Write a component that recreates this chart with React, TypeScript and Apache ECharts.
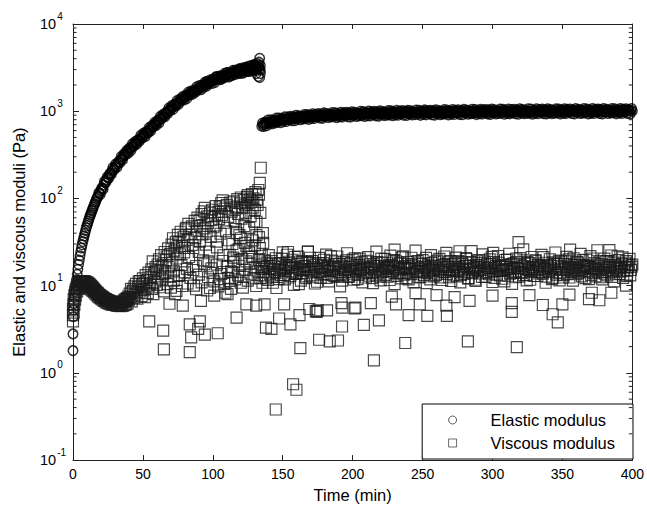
import React, { useEffect, useRef } from 'react';
import * as echarts from 'echarts';

type Pt = [number, number];

// Elastic modulus (G') — gelation growth, 0–134 min
const elasticGrowth: Pt[] = [
  [0,1.8],[0,2.8],[0.2,4.4],[0.3,5.3],[0.5,6.2],[1,7.3],[1.5,8.6],[2,10],[2.5,11.7],[3,13.5],
  [3.5,15.4],[4,17.5],[4.5,19.6],[5,22],[5.5,24.5],[6,27],[6.5,29.5],[7,32],[7.5,34.5],[8,37],
  [8.5,40],[9,43],[9.5,46],[10,49],[10.5,52],[11,55],[11.5,58.5],[12,62],[12.5,65],[13,68],
  [13.5,72],[14,75],[14.5,79],[15,83],[15.5,87],[16,91],[16.5,95],[17,100],[17.5,104],[18,107],
  [19,114],[20,123],[21,131],[22,143],[23,151],[24,164],[25,173],[26,186],[27,194],[28,207],
  [29,216],[30,229],[31,238],[32,252],[33,261],[34,278],[35,287],[36,305],[37,314],[38,332],
  [39,342],[40,361],[41,372],[42,391],[43,402],[44,422],[45,434],[46,455],[47,466],[48,489],
  [49,500],[50,524],[51,535],[52,562],[53,574],[54,603],[55,614],[56,645],[57,660],[58,697],
  [59,711],[60,750],[61,766],[62,806],[63,826],[64,870],[65,890],[66,936],[67,958],[68,1006],
  [69,1028],[70,1078],[71,1100],[72,1151],[73,1175],[74,1227],[75,1250],[76,1303],[77,1325],[78,1380],
  [79,1402],[80,1458],[81,1479],[82,1535],[83,1556],[84,1612],[85,1632],[86,1690],[87,1709],[88,1770],
  [89,1789],[90,1850],[91,1869],[92,1931],[93,1946],[94,2008],[95,2022],[96,2085],[97,2099],[98,2162],
  [99,2178],[100,2243],[101,2262],[102,2328],[103,2345],[104,2412],[105,2418],[106,2483],[107,2488],[108,2548],
  [109,2552],[110,2613],[111,2617],[112,2680],[113,2685],[114,2745],[115,2750],[116,2815],[117,2810],[118,2866],
  [119,2859],[120,2915],[121,2910],[122,2966],[123,2960],[124,3016],[125,3009],[126,3066],[127,3058],[128,3116],
  [129,3105],[130,3157],[131,3145],[132,3196],[133,3185],
];

// Elastic modulus — second reading of the growth band (half-minute samples)
const elasticGrowthB: Pt[] = [
  [18.5,117],[19.5,111],[20.5,132],[21.5,127],[22.5,157],[23.5,153],[24.5,177],[25.5,169],[26.5,194],[27.5,190],
  [28.5,226],[29.5,214],[30.5,248],[31.5,228],[32.5,264],[33.5,256],[34.5,302],[35.5,278],[36.5,325],[37.5,317],
  [38.5,357],[39.5,330],[40.5,381],[41.5,355],[42.5,424],[43.5,400],[44.5,449],[45.5,418],[46.5,470],[47.5,454],
  [48.5,529],[49.5,492],[50.5,561],[51.5,510],[52.5,585],[53.5,559],[54.5,651],[55.5,592],[56.5,685],[57.5,665],
  [58.5,746],[59.5,687],[60.5,788],[61.5,731],[62.5,873],[63.5,823],[64.5,924],[65.5,858],[66.5,966],[67.5,933],
  [68.5,1088],[69.5,1011],[70.5,1154],[71.5,1046],[72.5,1198],[73.5,1141],[74.5,1325],[75.5,1199],[76.5,1380],[77.5,1325],
  [78.5,1474],[79.5,1344],[80.5,1527],[81.5,1402],[82.5,1653],[83.5,1536],[84.5,1703],[85.5,1561],[86.5,1734],[87.5,1653],
  [88.5,1905],[89.5,1747],[90.5,1972],[91.5,1767],[92.5,1996],[93.5,1878],[94.5,2156],[95.5,1931],[96.5,2197],[97.5,2088],
  [98.5,2300],[99.5,2077],[100.5,2343],[101.5,2134],[102.5,2501],[103.5,2307],[104.5,2536],[105.5,2303],[106.5,2535],[107.5,2392],
  [108.5,2729],[109.5,2479],[110.5,2772],[111.5,2463],[112.5,2762],[113.5,2579],[114.5,2940],[115.5,2615],[116.5,2953],[117.5,2781],
  [118.5,3034],[119.5,2714],[120.5,3028],[121.5,2732],[122.5,3170],[123.5,2898],[124.5,3163],[125.5,2855],[126.5,3123],[127.5,2933],
  [128.5,3328],[129.5,3006],[130.5,3340],[131.5,2948],[132.5,3286],[133.5,3040],
];

const elasticScatter: Pt[] = [
  [96,2200],[102,2450],[106,2350],[110,2750],[113,2550],[116,2950],[118,2700],[120,3100],[122,2800],[124,3200],
  [125,2850],[126,3300],[127,2900],[128,3350],[129,2950],[130,3450],[131,2700],[132,3500],[132.5,2500],[133,3650],
  [133.5,4050],[133.5,2430],[134,3350],[134,2950],[134,2700],
];

// Elastic modulus after the break, 135–400 min
const elasticPlateau: Pt[] = [
  [135,672],[136,701],[137,716],[138,724],[139,741],[140,739],[141,756],[142,761],[143,752],[144,779],
  [145,768],[146,790],[147,776],[148,781],[149,802],[150,795],[151,812],[152,803],[153,809],[154,829],
  [155,811],[156,836],[157,828],[158,819],[159,847],[160,833],[161,842],[162,861],[163,845],[164,852],
  [165,872],[166,849],[167,866],[168,880],[169,858],[170,874],[171,889],[172,865],[173,877],[174,893],
  [175,871],[176,886],[177,901],[178,878],[179,890],[180,907],[181,884],[182,899],[183,913],[184,887],
  [185,904],[186,918],[187,893],[188,911],[189,896],[190,923],[191,905],[192,914],[193,928],[194,902],
  [195,919],[196,933],[197,908],[198,925],[199,915],[200,938],[201,911],[202,929],[203,942],[204,917],
  [205,931],[206,920],[207,946],[208,924],[209,937],[210,951],[211,922],[212,940],[213,929],[214,954],
  [215,933],[216,946],[217,925],[218,958],[219,938],[220,949],[221,962],[222,931],[223,952],[224,943],
  [225,965],[226,936],[227,955],[228,970],[229,941],[230,959],[231,948],[232,973],[233,944],[234,961],
  [235,952],[236,976],[237,947],[238,964],[239,983],[240,950],[241,968],[242,957],[243,979],[244,953],
  [245,971],[246,960],[247,986],[248,955],[249,974],[250,963],[251,990],[252,958],[253,977],[254,966],
  [255,948],[256,981],[257,969],[258,993],[259,960],[260,984],[261,972],[262,955],[263,988],[264,975],
  [265,962],[266,996],[267,978],[268,965],[269,985],[270,952],[271,981],[272,999],[273,968],[274,987],
  [275,974],[276,959],[277,992],[278,977],[279,1003],[280,966],[281,984],[282,971],[283,995],[284,957],
  [285,989],[286,1006],[287,973],[288,986],[289,963],[290,998],[291,980],[292,1009],[293,969],[294,991],
  [295,976],[296,1001],[297,962],[298,987],[299,1012],[300,978],[301,994],[302,967],[303,1004],[304,983],
  [305,997],[306,970],[307,1008],[308,986],[309,1015],[310,974],[311,993],[312,980],[313,1003],[314,965],
  [315,990],[316,1011],[317,977],[318,998],[319,984],[320,1018],[321,969],[322,995],[323,1006],[324,981],
  [325,1013],[326,988],[327,972],[328,1002],[329,991],[330,1021],[331,976],[332,999],[333,985],[334,1010],
  [335,993],[336,1016],[337,979],[338,1004],[339,988],[340,1024],[341,971],[342,1001],[343,1013],[344,986],
  [345,1007],[346,994],[347,1019],[348,982],[349,1009],[350,997],[351,1027],[352,975],[353,1003],[354,1014],
  [355,989],[356,1011],[357,998],[358,1022],[359,984],[360,1006],[361,1017],[362,992],[363,1029],[364,978],
  [365,1008],[366,996],[367,1015],[368,987],[369,1025],[370,1002],[371,981],[372,1012],[373,999],[374,1020],
  [375,990],[376,1031],[377,1005],[378,983],[379,1016],[380,1001],[381,1023],[382,993],[383,1010],[384,986],
  [385,1027],[386,1004],[387,1013],[388,991],[389,1019],[390,997],[391,1034],[392,985],[393,1008],[394,1021],
  [395,995],[396,1012],[397,1026],[398,999],[399,1017],[400,1005],
];

// Elastic modulus — second reading of the plateau band (half-minute samples)
const elasticPlateauB: Pt[] = [
  [135.5,731],[136.5,667],[137.5,751],[138.5,682],[139.5,794],[140.5,728],[141.5,795],[142.5,717],[143.5,784],[144.5,735],
  [145.5,834],[146.5,753],[147.5,836],[148.5,738],[149.5,823],[150.5,764],[151.5,865],[152.5,763],[153.5,857],[154.5,804],
  [155.5,873],[156.5,778],[157.5,865],[158.5,777],[159.5,899],[160.5,818],[161.5,888],[162.5,798],[163.5,869],[164.5,812],
  [165.5,918],[166.5,827],[167.5,916],[168.5,806],[169.5,896],[170.5,828],[171.5,935],[172.5,824],[173.5,924],[174.5,865],
  [175.5,938],[176.5,834],[177.5,925],[178.5,829],[179.5,956],[180.5,868],[181.5,942],[182.5,845],[183.5,919],[184.5,858],
  [185.5,967],[186.5,869],[187.5,960],[188.5,844],[189.5,935],[190.5,864],[191.5,974],[192.5,856],[193.5,958],[194.5,895],
  [195.5,970],[196.5,862],[197.5,956],[198.5,856],[199.5,987],[200.5,895],[201.5,971],[202.5,870],[203.5,947],[204.5,883],
  [205.5,995],[206.5,894],[207.5,988],[208.5,869],[209.5,963],[210.5,889],[211.5,1003],[212.5,882],[213.5,986],[214.5,921],
  [215.5,997],[216.5,885],[217.5,981],[218.5,878],[219.5,1011],[220.5,918],[221.5,994],[222.5,891],[223.5,967],[224.5,902],
  [225.5,1017],[226.5,913],[227.5,1009],[228.5,886],[229.5,982],[230.5,906],[231.5,1022],[232.5,899],[233.5,1004],[234.5,938],
  [235.5,1015],[236.5,901],[237.5,997],[238.5,893],[239.5,1027],[240.5,932],[241.5,1009],[242.5,904],[243.5,981],[244.5,915],
  [245.5,1031],[246.5,925],[247.5,1023],[248.5,897],[249.5,995],[250.5,918],[251.5,1035],[252.5,909],[253.5,1016],[254.5,949],
  [255.5,1027],[256.5,911],[257.5,1009],[258.5,902],[259.5,1039],[260.5,942],[261.5,1021],[262.5,914],[263.5,992],[264.5,924],
  [265.5,1042],[266.5,935],[267.5,1034],[268.5,907],[269.5,1005],[270.5,927],[271.5,1045],[272.5,918],[273.5,1026],[274.5,958],
  [275.5,1037],[276.5,920],[277.5,1018],[278.5,911],[279.5,1049],[280.5,952],[281.5,1030],[282.5,923],[283.5,1002],[284.5,934],
  [285.5,1052],[286.5,944],[287.5,1043],[288.5,915],[289.5,1015],[290.5,936],[291.5,1055],[292.5,927],[293.5,1036],[294.5,967],
  [295.5,1047],[296.5,929],[297.5,1028],[298.5,920],[299.5,1058],[300.5,960],[301.5,1040],[302.5,931],[303.5,1011],[304.5,941],
  [305.5,1061],[306.5,952],[307.5,1052],[308.5,923],[309.5,1022],[310.5,943],[311.5,1062],[312.5,933],[313.5,1042],[314.5,973],
  [315.5,1054],[316.5,934],[317.5,1034],[318.5,924],[319.5,1064],[320.5,964],[321.5,1044],[322.5,934],[323.5,1014],[324.5,944],
  [325.5,1066],[326.5,956],[327.5,1056],[328.5,926],[329.5,1026],[330.5,946],[331.5,1066],[332.5,936],[333.5,1046],[334.5,976],
  [335.5,1058],[336.5,938],[337.5,1038],[338.5,928],[339.5,1068],[340.5,968],[341.5,1048],[342.5,938],[343.5,1018],[344.5,948],
  [345.5,1069],[346.5,959],[347.5,1059],[348.5,929],[349.5,1029],[350.5,949],[351.5,1069],[352.5,939],[353.5,1049],[354.5,979],
  [355.5,1060],[356.5,940],[357.5,1040],[358.5,930],[359.5,1070],[360.5,970],[361.5,1050],[362.5,940],[363.5,1020],[364.5,950],
  [365.5,1071],[366.5,961],[367.5,1061],[368.5,931],[369.5,1031],[370.5,951],[371.5,1071],[372.5,941],[373.5,1051],[374.5,981],
  [375.5,1062],[376.5,942],[377.5,1042],[378.5,932],[379.5,1072],[380.5,972],[381.5,1052],[382.5,942],[383.5,1022],[384.5,952],
  [385.5,1073],[386.5,963],[387.5,1063],[388.5,933],[389.5,1033],[390.5,953],[391.5,1073],[392.5,943],[393.5,1053],[394.5,983],
  [395.5,1064],[396.5,944],[397.5,1044],[398.5,934],[399.5,1074],
];

// Viscous modulus (G'') — early hump, 0–40 min
const viscousEarly: Pt[] = [
  [0,3.9],[0,4.6],[0,5.4],[0.3,6.1],[0.5,7],[0.5,4.9],[1,7.8],[1,6],[1.5,8.5],[1.5,6.9],
  [2,9.1],[2,7.7],[2.5,9.6],[3,10],[3,8.6],[3.5,10.3],[4,10.6],[4,9.2],[4.5,10.8],[5,11],
  [5,9.6],[5.5,11.1],[6,11.2],[6,9.9],[6.5,11.3],[7,11.3],[7,10],[7.5,11.3],[8,11.2],[8,10],
  [8.5,11.2],[9,11.1],[9,9.9],[9.5,11],[10,10.9],[10,9.7],[10.5,10.8],[11,10.6],[11,9.5],[11.5,10.5],
  [12,10.3],[12,9.3],[12.5,10.1],[13,9.9],[13,9],[13.5,9.7],[14,9.5],[14,8.7],[14.5,9.3],[15,9.1],
  [15,8.4],[15.5,8.9],[16,8.7],[16,8.1],[16.5,8.5],[17,8.4],[17,7.8],[17.5,8.2],[18,8.1],[18,7.5],
  [18.5,7.9],[19,7.8],[19,7.3],[19.5,7.7],[20,7.6],[20,7.1],[20.5,7.5],[21,7.4],[21,6.9],[21.5,7.3],
  [22,7.2],[22,6.7],[22.5,7.1],[23,7],[23,6.6],[23.5,7],[24,6.9],[24,6.4],[24.5,6.8],[25,6.8],
  [25,6.3],[25.5,6.7],[26,6.7],[26,6.2],[26.5,6.6],[27,6.6],[27,6.1],[27.5,6.5],[28,6.5],[28,6.1],
  [28.5,6.5],[29,6.4],[29,6],[29.5,6.4],[30,6.4],[30,6],[30.5,6.3],[31,6.4],[31,5.9],[31.5,6.3],
  [32,6.3],[32,5.9],[32.5,6.4],[33,6.3],[33,5.9],[33.5,6.4],[34,6.3],[34,5.8],[34.5,6.5],[35,6.4],
  [35,5.9],[35.5,6.6],[36,6.5],[36,5.9],[36.5,6.8],[37,6.6],[37,6],[37.5,7],[38,6.8],[38,6.1],
  [38.5,7.2],[39,7],[39,6.2],[39.5,7.5],
];

// Viscous modulus — scattered rise, 40–135 min
const viscousRise: Pt[] = [
  [40,6.9],[40.5,8.1],[41,7.4],[41.5,9.2],[42,6.6],[42.5,8.6],[43,8.8],[43.5,7.3],[44,9.8],[44.5,7.9],
  [45,10.5],[45.5,8.4],[46,7.1],[46.5,9.6],[47,11.2],[47.5,8.3],[48,11.3],[48.5,9.1],[49,7.6],[49.5,10.4],
  [50,12.1],[50.5,8.9],[51,10.8],[51.5,7.4],[52,13.2],[52.5,9.5],[53,11.6],[53.5,8.2],[54,14.1],[54.5,3.9],
  [55,10.3],[55.5,12.6],[56,15.4],[56.5,9.2],[57,19],[57.5,8],[58,13.8],[58.5,11.1],[59,16.3],[59.5,14.7],
  [60,10.2],[60.5,17.5],[61,12.4],[61.5,20.1],[62,9.6],[62.5,15.2],[63,22.4],[63.5,11.8],[64,17.1],[64.5,13.5],
  [64.5,3.05],[65,1.86],[65,8.6],[65.5,24.3],[66,14.2],[66.5,19.6],[67,21.6],[67.5,10.4],[68,26.8],[68.5,16.5],
  [69,6.2],[69.5,23.1],[70,12.8],[70.5,29.5],[71,18.4],[71.5,35],[72,14.6],[72.5,25.2],[73,8],[73.5,31.8],
  [74,20.5],[74.5,27.4],[75,38.2],[75.5,13.1],[76,32],[76.5,22.8],[77,41.5],[77.5,17.2],[78,28.6],[78.5,5.9],
  [79,36.4],[79.5,24.1],[80,27],[80.5,44.2],[81,46],[81.5,15.6],[82,33.5],[82.5,51],[83,21.3],[83.5,3.6],
  [83.5,1.73],[84,38.6],[84.5,2.55],[85,47.8],[85.5,29.4],[86,27],[86.5,10],[87,55.3],[87.5,35.1],[88,16.8],
  [88.5,42.6],[89,60.2],[89.5,3.2],[90,24.4],[90.5,57],[90.7,32],[90.7,3.9],[91,48.5],[91.5,6.7],[92,66],
  [92.5,38.8],[93,19.5],[93.5,71.2],[94,45.3],[94.3,78],[94.3,2.75],[95,29.6],[95.5,42],[96,62.4],[96.5,52.1],
  [97,19],[97.5,24.6],[98,68.8],[98.5,36.2],[99,56.4],[99.5,74.1],[100,14],[100.5,46.8],[101,7.7],[101.5,63.2],
  [102,81.5],[102.5,49],[102.6,32],[103,27.5],[103.5,2.85],[104,70.2],[104.5,58.3],[105,81],[105,11.9],[105.5,39.4],
  [106,88.6],[106.5,64.2],[107,95],[107.5,22.3],[108,52.6],[108.5,76.4],[109,8.3],[109.5,42],[110,84.3],[110.5,8],
  [111,61.5],[111.5,33.2],[112,11.3],[112.5,89.8],[113,14.6],[113.5,70.6],[114,30],[114.5,21],[115,92.4],[115.5,55.2],
  [116,80.7],[116.5,44.6],[117,77],[117,4.3],[117.5,98.2],[118,66.5],[118.5,26.4],[119,38],[119.5,88.1],[120,102.5],
  [120.5,58.6],[121,79.3],[121.5,9.5],[122,95.6],[122.5,48.2],[123,84.7],[123.5,68.4],[124,19],[124,6.1],[124.5,104.3],
  [125,109],[125.5,88.2],[126,46],[126.5,97.5],[127,62.8],[127.6,92],[127.6,27],[128,112.4],[128.5,78.6],[129,100.5],
  [129.5,54.2],[130,74],[130.5,118],[131,5.9],[131.2,54],[131.2,38],[131.5,96.4],[132,84.1],[132.5,125],[133,110.6],
  [133.6,151],[133.6,27],[134.3,225],[134.8,17.5],[134,68.2],
];

// Viscous modulus — lower part of the rising cloud, 70–136 min
const viscousRiseLow: Pt[] = [
  [70,9.5],[72,11.4],[74,8.7],[76,12.9],[78,9.9],[80,14.2],[82,10.6],[84,12.3],[86,15.1],[88,9.1],
  [90,13.4],[92,10.9],[94,17.6],[96,8.8],[96.5,12.5],[98,9.4],[99,15.8],[101,11.2],[103,17.4],[104,9.8],
  [106,13.6],[107,19.2],[108,10.5],[110,16.4],[111,12.2],[112,22.5],[113,9.2],[114,14.3],[115,18.6],[116,11.8],
  [117,25.4],[118,13.1],[119,16.9],[120,10.8],[121,20.3],[122,12.6],[123,15.2],[124,28.6],[125,11.4],[126,17.8],
  [127,13.7],[128,21.4],[129,12.1],[130,16.2],[131,9.9],[132,14.5],[133,19.7],[134,12.3],[135,15.6],[135,22],
  [135.5,10.8],[136,31],[135.8,40],[133,36],[130,29],[128.5,33],[126,24],[123,31],[120,35],[117,40],
];

// Viscous modulus after the break, 136–400 min
const viscousPlateau: Pt[] = [
  [136,14.2],[137,19.5],[138,12.1],[139,16.8],[140,22.4],[141,13.5],[142,17.9],[143,10.8],[144,15.3],[145,20.6],
  [146,14.1],[147,11.9],[148,18.2],[149,16.4],[150,24.1],[151,13.2],[152,15.8],[153,22.6],[154,12.4],[155,17.3],
  [156,14.6],[157,19.8],[158,10.2],[159,16.1],[160,13.7],[161,21.5],[162,15.2],[163,11.4],[164,18.6],[165,14.9],
  [166,16.7],[167,12.8],[168,24.3],[169,15.5],[170,13.1],[171,19.2],[172,16.3],[173,10.6],[174,17.5],[175,14.4],
  [176,20.8],[177,12.3],[178,15.9],[179,18.1],[180,13.6],[181,22.7],[182,16.2],[183,11.2],[184,14.8],[185,19.4],
  [186,15.6],[187,12.9],[188,17.8],[189,21.6],[190,14.3],[191,9.8],[192,16.9],[193,13.4],[194,18.7],[195,15.1],
  [196,23.5],[197,12.6],[198,16.4],[199,14.2],[200,19.9],[201,11.7],[202,15.7],[203,17.2],[204,13.3],[205,20.4],
  [206,15.4],[207,10.9],[208,16.6],[209,18.9],[210,14.1],[211,21.2],[212,13],[213,16.2],[214,12.2],[215,17.6],
  [216,15],[217,24.6],[218,13.8],[219,16.8],[220,11.5],[221,18.3],[222,14.7],[223,20.2],[224,15.9],[225,12.7],
  [226,17.1],[227,22.1],[228,14.5],[229,16.5],[230,10.4],[231,19],[232,13.9],[233,15.3],[234,18.4],[235,12.1],
  [236,21.7],[237,16],[238,14],[239,17.7],[240,11.8],[241,15.6],[242,20.9],[243,13.5],[244,16.9],[245,25.2],
  [246,14.6],[247,12.4],[248,18],[249,15.2],[250,19.6],[251,13.2],[252,16.3],[253,10.7],[254,17.4],[255,14.9],
  [256,22.4],[257,15.8],[258,12.8],[259,18.8],[260,16.1],[261,13.7],[262,20.3],[263,15],[264,11.6],[265,17.3],
  [266,14.3],[267,23.8],[268,16.6],[269,12.5],[270,19.1],[271,15.5],[272,13.1],[273,17.9],[274,21],[275,14.7],
  [276,16.2],[277,10.9],[278,18.5],[279,15.1],[280,13.6],[281,20.7],[282,16.8],[283,12.2],[284,17],[285,24.9],
  [286,14.4],[287,15.9],[288,11.3],[289,19.3],[290,16.4],[291,13.8],[292,18.2],[293,22.8],[294,15.3],[295,12.6],
  [296,17.6],[297,14.2],[298,20],[299,16],[300,11],[301,18.7],[302,15.7],[303,13.4],[304,21.9],[305,16.9],
  [306,14.8],[307,12],[308,17.2],[309,19.7],[310,15.4],[311,13],[312,23.2],[313,16.3],[314,10.5],[315,18],
  [316,14.6],[317,20.5],[318,15.9],[319,12.7],[320,17.4],[321,14],[322,26.1],[323,16.7],[324,13.3],[325,18.6],
  [326,15.2],[327,11.7],[328,21.3],[329,16.1],[330,14.4],[331,19.5],[332,12.9],[333,17.1],[334,15.6],[335,22.5],
  [336,13.7],[337,18.3],[338,10.8],[339,16.5],[340,14.9],[341,20.1],[342,15.8],[343,12.3],[344,17.8],[345,24],
  [346,14.1],[347,16.8],[348,11.5],[349,19],[350,15.3],[351,13.2],[352,18.9],[353,21.4],[354,16.2],[355,12.4],
  [356,17.5],[357,14.7],[358,20.6],[359,16],[360,13.5],[361,18.4],[362,15.1],[363,23.1],[364,12.8],[365,17],
  [366,14.5],[367,19.8],[368,16.4],[369,11.9],[370,21.8],[371,15.6],[372,13.9],[373,18.1],[374,15],[375,25.5],
  [376,16.9],[377,12.5],[378,17.7],[379,14.3],[380,20.4],[381,15.9],[382,13.1],[383,18.8],[384,16.3],[385,22.2],
  [386,14.6],[387,11.2],[388,17.3],[389,15.4],[390,19.6],[391,13.6],[392,16.7],[393,21.1],[394,14.9],[395,18.3],
  [396,12.9],[397,16.2],[398,20.3],[399,15.1],[400,17.4],
];

// Viscous modulus — second reading of the plateau band (half-minute samples)
const viscousPlateauB: Pt[] = [
  [136.5,16.3],[137.5,13.1],[138.5,18.4],[139.5,11.6],[140.5,15.7],[141.5,19.2],[142.5,12.7],[143.5,16.9],[144.5,14.2],[145.5,9.4],
  [146.5,17.6],[147.5,15.1],[148.5,13.3],[149.5,20.3],[150.5,14.8],[151.5,11.8],[152.5,17.2],[153.5,15.9],[154.5,18.8],[155.5,12.9],
  [156.5,16.4],[157.5,14.1],[158.5,21.3],[159.5,13.6],[160.5,17.8],[161.5,10.4],[162.5,15.5],[163.5,19.1],[164.5,13.9],[165.5,16.8],
  [166.5,12.2],[167.5,18.6],[168.5,15.3],[169.5,20.9],[170.5,14.6],[171.5,12.5],[172.5,17.4],[173.5,15.6],[174.5,11.1],[175.5,18.2],
  [176.5,14.3],[177.5,16.7],[178.5,13.4],[179.5,19.8],[180.5,15.2],[181.5,12.3],[182.5,17.1],[183.5,14.9],[184.5,21.8],[185.5,13.2],
  [186.5,16.5],[187.5,18.9],[188.5,12.6],[189.5,15.8],[190.5,17.7],[191.5,13.7],[192.5,11.4],[193.5,16.2],[194.5,14.4],[195.5,19.5],
  [196.5,15.4],[197.5,12.8],[198.5,18.1],[199.5,16.6],[200.5,13.5],[201.5,20.6],[202.5,14.7],[203.5,11.9],[204.5,17.3],[205.5,15.1],
  [206.5,18.5],[207.5,13.8],[208.5,16.1],[209.5,12.4],[210.5,19.3],[211.5,15.5],[212.5,17.6],[213.5,14.2],[214.5,10.7],[215.5,16.9],
  [216.5,13.1],[217.5,18.7],[218.5,15.7],[219.5,12.7],[220.5,20.4],[221.5,14.5],[222.5,16.4],[223.5,13.3],[224.5,18.3],[225.5,15.9],
  [226.5,11.6],[227.5,17.2],[228.5,14.8],[229.5,19.6],[230.5,16.2],[231.5,12.9],[232.5,17.9],[233.5,14.1],[234.5,15.6],[235.5,21.1],
  [236.5,13.4],[237.5,16.8],[238.5,12.2],[239.5,18.6],[240.5,15.3],[241.5,13.7],[242.5,17.4],[243.5,10.9],[244.5,16.1],[245.5,14.3],
  [246.5,19.2],[247.5,15.8],[248.5,12.6],[249.5,17.7],[250.5,14.6],[251.5,16.5],[252.5,20.8],[253.5,13.9],[254.5,15.2],[255.5,11.8],
  [256.5,18.2],[257.5,14.9],[258.5,16.7],[259.5,13.2],[260.5,19.4],[261.5,15.4],[262.5,12.4],[263.5,17.1],[264.5,14.4],[265.5,21.6],
  [266.5,16.3],[267.5,13.6],[268.5,18.8],[269.5,15.1],[270.5,11.3],[271.5,17.5],[272.5,14.7],[273.5,16.4],[274.5,12.8],[275.5,19.1],
  [276.5,15.6],[277.5,13.3],[278.5,17.8],[279.5,14.2],[280.5,16.9],[281.5,20.2],[282.5,12.1],[283.5,15.7],[284.5,18.4],[285.5,13.9],
  [286.5,16.6],[287.5,11.7],[288.5,17.3],[289.5,14.8],[290.5,19.7],[291.5,15.3],[292.5,12.6],[293.5,16.2],[294.5,18.9],[295.5,14.1],
  [296.5,15.9],[297.5,13.5],[298.5,17.6],[299.5,21.4],[300.5,14.6],[301.5,12.3],[302.5,16.8],[303.5,15.2],[304.5,18.3],[305.5,13.1],
  [306.5,17.1],[307.5,14.9],[308.5,11.2],[309.5,16.4],[310.5,19.9],[311.5,15.5],[312.5,13.7],[313.5,17.7],[314.5,14.3],[315.5,16.1],
  [316.5,12.5],[317.5,18.6],[318.5,15.8],[319.5,20.7],[320.5,14.4],[321.5,16.7],[322.5,13.2],[323.5,17.9],[324.5,11.5],[325.5,15.4],
  [326.5,18.1],[327.5,14.7],[328.5,16.3],[329.5,12.9],[330.5,19.3],[331.5,15.1],[332.5,17.4],[333.5,13.8],[334.5,16.5],[335.5,14.2],
  [336.5,21.2],[337.5,15.6],[338.5,12.7],[339.5,17.2],[340.5,14.5],[341.5,16.9],[342.5,11.9],[343.5,18.5],[344.5,15.3],[345.5,13.4],
  [346.5,17.6],[347.5,19.4],[348.5,14.1],[349.5,16.2],[350.5,12.4],[351.5,17.8],[352.5,15.5],[353.5,13.6],[354.5,20.1],[355.5,16.6],
  [356.5,14.3],[357.5,11.4],[358.5,17.3],[359.5,15.2],[360.5,18.7],[361.5,13.9],[362.5,16.4],[363.5,14.8],[364.5,19.6],[365.5,15.7],
  [366.5,12.2],[367.5,17.1],[368.5,14.6],[369.5,16.8],[370.5,13.3],[371.5,20.5],[372.5,15.9],[373.5,12.8],[374.5,17.5],[375.5,14.4],
  [376.5,18.9],[377.5,15.3],[378.5,11.8],[379.5,16.6],[380.5,13.7],[381.5,19.2],[382.5,15.1],[383.5,17.2],[384.5,14.2],[385.5,12.6],
  [386.5,18.4],[387.5,16.1],[388.5,13.5],[389.5,21.7],[390.5,15.8],[391.5,14.5],[392.5,17.7],[393.5,12.3],[394.5,16.3],[395.5,19.1],
  [396.5,14.9],[397.5,17.4],[398.5,13.1],[399.5,16.5],
];

// Viscous modulus — isolated low/high points after the break
const viscousOutliers: Pt[] = [
  [138,3.3],[137,6.1],[141.9,3.2],[145,0.38],[147.4,4.2],[151,6.1],[153.8,24.3],[155.5,3.6],[157.4,0.74],[159.8,0.64],
  [162,4.6],[162.6,1.92],[168,24.8],[169,5.4],[173.6,5.1],[174.3,5],[175,5.2],[176,2.4],[181.7,5.2],[183.6,2.3],
  [189.5,2.35],[192,6.3],[192.4,3.4],[192.6,5.6],[201.4,5.5],[202,5.6],[208,3.55],[213,6.3],[215.2,1.39],[218.8,4],
  [228,7.5],[230,25.9],[231,6.1],[237.6,2.2],[240,4.6],[245,8.2],[248,6.1],[253.4,4.5],[260,7.8],[267.4,4.5],
  [267,5.9],[272.9,7.4],[276.4,24.8],[282.4,2.3],[283.6,6.7],[300,7.7],[300.5,23.8],[313.8,5],[313.8,6.3],[317.4,1.97],
  [318.6,31.6],[326.4,7.8],[336,6],[343,4.7],[346.7,3.8],[350,6.1],[355,7.9],[355.5,25.9],[369,7],[371,8.3],
  [376.4,6.8],[383.6,25.6],[385,8.3],[395.5,10],
];

const FONT = "'Liberation Sans', Arial, Helvetica, sans-serif";
const X_MIN = 0;
const X_MAX = 400;
const Y_MIN = 0.1;
const Y_MAX = 10000;

const minorTickValues: number[] = [];
for (let e = -1; e < 4; e++) {
  for (let m = 2; m <= 9; m++) minorTickValues.push(m * Math.pow(10, e));
}

export default function App() {
  const ref = useRef<HTMLDivElement>(null);

  useEffect(() => {
    if (!ref.current) return;
    const chart = echarts.init(ref.current, undefined, { renderer: 'svg' });

    const axisColor = '#222';
    const yLabelFormatter = (v: number) => {
      const e = Math.round(Math.log10(v));
      return '{b|10}{s|' + e + '}';
    };

    chart.setOption({
      animation: false,
      backgroundColor: '#fff',
      grid: { left: 73, right: 14, top: 24, bottom: 44, containLabel: false },
      xAxis: [
        {
          type: 'value', min: X_MIN, max: X_MAX, interval: 50, position: 'bottom',
          axisLine: { show: true, onZero: false, lineStyle: { color: axisColor, width: 1 } },
          axisTick: { show: true, inside: true, length: 5, lineStyle: { color: axisColor } },
          splitLine: { show: false },
          axisLabel: { fontSize: 14, fontFamily: FONT, color: '#000', margin: 7 },
          name: 'Time (min)', nameLocation: 'middle', nameGap: 24,
          nameTextStyle: { fontSize: 16.5, fontFamily: FONT, color: '#000' },
        },
        {
          type: 'value', min: X_MIN, max: X_MAX, interval: 50, position: 'top',
          axisLine: { show: true, onZero: false, lineStyle: { color: axisColor, width: 1 } },
          axisTick: { show: true, inside: true, length: 5, lineStyle: { color: axisColor } },
          splitLine: { show: false },
          axisLabel: { show: false },
        },
      ],
      yAxis: [
        {
          type: 'log', logBase: 10, min: Y_MIN, max: Y_MAX, position: 'left',
          axisLine: { show: true, onZero: false, lineStyle: { color: axisColor, width: 1 } },
          axisTick: { show: true, inside: true, length: 6, lineStyle: { color: axisColor } },
          splitLine: { show: false },
          axisLabel: {
            formatter: yLabelFormatter, align: 'left', margin: 33, color: '#000',
            rich: {
              b: { fontSize: 14.5, fontFamily: FONT, color: '#000', lineHeight: 26, verticalAlign: 'middle' },
              s: { fontSize: 10, fontFamily: FONT, color: '#000', lineHeight: 10, verticalAlign: 'top', padding: [0, 0, 0, 1] },
            },
          },
          name: 'Elastic and viscous moduli (Pa)', nameLocation: 'middle', nameGap: 46,
          nameTextStyle: { fontSize: 16.5, fontFamily: FONT, color: '#000' },
        },
        {
          type: 'log', logBase: 10, min: Y_MIN, max: Y_MAX, position: 'right',
          axisLine: { show: true, onZero: false, lineStyle: { color: axisColor, width: 1 } },
          axisTick: { show: true, inside: true, length: 6, lineStyle: { color: axisColor } },
          splitLine: { show: false },
          axisLabel: { show: false },
        },
      ],
      legend: {
        data: [
          { name: 'Elastic modulus', icon: 'circle' },
          { name: 'Viscous modulus', icon: 'rect' },
        ],
        orient: 'vertical', right: 14, bottom: 49,
        itemWidth: 8, itemHeight: 8, itemGap: 5,
        padding: [7, 18, 7, 26],
        backgroundColor: '#fff', borderColor: '#000', borderWidth: 1, borderRadius: 0,
        selectedMode: false,
        itemStyle: { borderWidth: 0.8 },
        textStyle: { fontSize: 16.5, fontFamily: FONT, color: '#000', lineHeight: 18, padding: [0, 0, 0, 29], width: 120 },
      },
      series: [
        {
          type: 'scatter', name: 'Elastic modulus', xAxisIndex: 0, yAxisIndex: 0,
          symbol: 'circle', symbolSize: 9.5, progressive: 0,
          itemStyle: { color: 'rgba(0,0,0,0)', borderColor: '#000', borderWidth: 1.5 },
          emphasis: { disabled: true },
          data: [...elasticGrowth, ...elasticGrowthB, ...elasticScatter, ...elasticPlateau, ...elasticPlateauB],
        },
        {
          type: 'scatter', name: 'Viscous modulus', xAxisIndex: 0, yAxisIndex: 0,
          symbol: 'rect', symbolSize: 11, progressive: 0,
          itemStyle: { color: 'rgba(0,0,0,0)', borderColor: '#1a1a1a', borderWidth: 1.15 },
          emphasis: { disabled: true },
          data: [...viscousEarly, ...viscousRise, ...viscousRiseLow, ...viscousPlateau, ...viscousPlateauB, ...viscousOutliers],
        },
        {
          type: 'custom', name: 'minorTicks', xAxisIndex: 0, yAxisIndex: 0,
          silent: true, clip: false, z: 10,
          data: minorTickValues.map((v) => [X_MIN, v]),
          renderItem: (_params: any, api: any) => {
            const v = api.value(1);
            const l = api.coord([X_MIN, v]);
            const r = api.coord([X_MAX, v]);
            return {
              type: 'group',
              children: [
                { type: 'line', shape: { x1: l[0], y1: l[1], x2: l[0] + 3.5, y2: l[1] }, style: { stroke: axisColor, lineWidth: 1 } },
                { type: 'line', shape: { x1: r[0] - 3.5, y1: r[1], x2: r[0], y2: r[1] }, style: { stroke: axisColor, lineWidth: 1 } },
              ],
            };
          },
        },
      ],
    });

    return () => chart.dispose();
  }, []);

  return (
    <div
      ref={ref}
      style={{ position: 'fixed', left: 0, top: 0, width: 647, height: 508, background: '#fff' }}
    />
  );
}
